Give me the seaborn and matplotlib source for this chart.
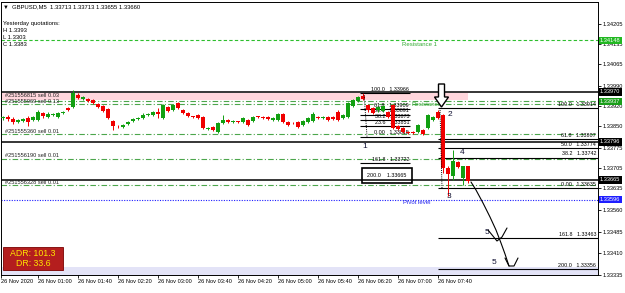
import matplotlib
matplotlib.use("Agg")
import numpy as np
import pandas as pd
import matplotlib.pyplot as plt
import matplotlib.transforms as mtransforms
from matplotlib.patches import Rectangle, Polygon
import seaborn as sns

# ---------------- data ----------------
first_bar_time = "2020-11-26 00:25"
opens = [1.33879, 1.33883, 1.33876, 1.33865, 1.33869, 1.33879, 1.33872, 1.33872, 1.33897, 1.33883,
         1.33890, 1.33883, 1.33897, 1.33914, 1.33917, 1.33959, 1.33945, 1.33945, 1.33942, 1.33928,
         1.33921, 1.33910, 1.33869, 1.33851, 1.33848, 1.33858, 1.33869, 1.33876, 1.33879, 1.33890,
         1.33890, 1.33900, 1.33879, 1.33917, 1.33907, 1.33931, 1.33907, 1.33897, 1.33883, 1.33890,
         1.33883, 1.33841, 1.33848, 1.33831, 1.33862, 1.33872, 1.33865, 1.33866, 1.33865, 1.33872,
         1.33869, 1.33883, 1.33883, 1.33883, 1.33872, 1.33872, 1.33893, 1.33865, 1.33862, 1.33865,
         1.33855, 1.33865, 1.33869, 1.33883, 1.33879, 1.33883, 1.33883, 1.33900, 1.33879, 1.33883,
         1.33921, 1.33938, 1.33956, 1.33924, 1.33914, 1.33907, 1.33903, 1.33900, 1.33924, 1.33851,
         1.33844, 1.33831, 1.33830, 1.33831, 1.33838, 1.33844, 1.33872, 1.33900, 1.33890, 1.33706,
         1.33678, 1.33727, 1.33671, 1.33713]
highs = [1.33886, 1.33890, 1.33883, 1.33876, 1.33879, 1.33886, 1.33886, 1.33907, 1.33900, 1.33900,
         1.33897, 1.33900, 1.33903, 1.33917, 1.33976, 1.33966, 1.33956, 1.33949, 1.33945, 1.33931,
         1.33924, 1.33914, 1.33872, 1.33855, 1.33858, 1.33869, 1.33879, 1.33883, 1.33897, 1.33897,
         1.33903, 1.33914, 1.33928, 1.33921, 1.33928, 1.33935, 1.33910, 1.33900, 1.33886, 1.33893,
         1.33886, 1.33848, 1.33851, 1.33865, 1.33890, 1.33876, 1.33872, 1.33869, 1.33883, 1.33876,
         1.33886, 1.33886, 1.33886, 1.33886, 1.33883, 1.33897, 1.33897, 1.33869, 1.33865, 1.33869,
         1.33872, 1.33883, 1.33900, 1.33886, 1.33886, 1.33886, 1.33886, 1.33907, 1.33893, 1.33935,
         1.33945, 1.33956, 1.33966, 1.33928, 1.33917, 1.33921, 1.33924, 1.33903, 1.33928, 1.33855,
         1.33848, 1.33834, 1.33834, 1.33858, 1.33841, 1.33893, 1.33886, 1.33907, 1.33893, 1.33713,
         1.33768, 1.33730, 1.33713, 1.33713]
lows = [1.33872, 1.33869, 1.33858, 1.33862, 1.33865, 1.33851, 1.33869, 1.33869, 1.33879, 1.33879,
        1.33886, 1.33879, 1.33893, 1.33903, 1.33914, 1.33945, 1.33942, 1.33935, 1.33928, 1.33914,
        1.33900, 1.33876, 1.33838, 1.33844, 1.33844, 1.33855, 1.33865, 1.33872, 1.33876, 1.33886,
        1.33886, 1.33879, 1.33876, 1.33900, 1.33903, 1.33910, 1.33893, 1.33883, 1.33879, 1.33876,
        1.33841, 1.33838, 1.33834, 1.33827, 1.33858, 1.33862, 1.33862, 1.33862, 1.33862, 1.33851,
        1.33865, 1.33879, 1.33876, 1.33872, 1.33869, 1.33869, 1.33862, 1.33851, 1.33858, 1.33844,
        1.33851, 1.33862, 1.33865, 1.33876, 1.33876, 1.33869, 1.33872, 1.33869, 1.33876, 1.33879,
        1.33917, 1.33935, 1.33942, 1.33900, 1.33893, 1.33900, 1.33900, 1.33879, 1.33841, 1.33838,
        1.33827, 1.33824, 1.33824, 1.33827, 1.33820, 1.33841, 1.33869, 1.33876, 1.33688, 1.33609,
        1.33664, 1.33706, 1.33647, 1.33655]
closes = [1.33880, 1.33876, 1.33865, 1.33872, 1.33876, 1.33865, 1.33883, 1.33900, 1.33886, 1.33893,
          1.33893, 1.33897, 1.33900, 1.33907, 1.33966, 1.33949, 1.33952, 1.33938, 1.33931, 1.33917,
          1.33903, 1.33879, 1.33851, 1.33850, 1.33855, 1.33865, 1.33876, 1.33879, 1.33890, 1.33891,
          1.33900, 1.33893, 1.33924, 1.33903, 1.33924, 1.33914, 1.33897, 1.33886, 1.33882, 1.33879,
          1.33844, 1.33844, 1.33838, 1.33862, 1.33872, 1.33865, 1.33869, 1.33865, 1.33879, 1.33855,
          1.33883, 1.33882, 1.33879, 1.33876, 1.33879, 1.33893, 1.33865, 1.33855, 1.33861, 1.33848,
          1.33869, 1.33879, 1.33893, 1.33879, 1.33883, 1.33872, 1.33876, 1.33872, 1.33890, 1.33931,
          1.33942, 1.33952, 1.33945, 1.33907, 1.33897, 1.33917, 1.33921, 1.33883, 1.33844, 1.33841,
          1.33831, 1.33827, 1.33827, 1.33855, 1.33824, 1.33890, 1.33883, 1.33879, 1.33706, 1.33685,
          1.33730, 1.33709, 1.33713, 1.33660]

time_tick_labels = ["26 Nov 01:00", "26 Nov 01:40", "26 Nov 02:20", "26 Nov 03:00", "26 Nov 03:40",
                    "26 Nov 04:20", "26 Nov 05:00", "26 Nov 05:40", "26 Nov 06:20", "26 Nov 07:00",
                    "26 Nov 07:40"]
price_ticks = [1.34205, 1.34135, 1.34065, 1.33990, 1.33920, 1.33850, 1.33775, 1.33705,
               1.33635, 1.33560, 1.33485, 1.33410, 1.33335]

resistance1 = 1.34148
supply_zone = [1.33942, 1.33966]
black_levels = [1.33970, 1.33796, 1.33665]
order_levels = [1.33937, 1.33928, 1.33822, 1.33737, 1.33647]
order_labels = ["#251556815 sell 0.03", "#251555969 sell 0.13", "#251555360 sell 0.01",
                "#251556190 sell 0.01", "#251556328 sell 0.01"]
pivot_level = 1.33596
price_boxes = [(1.34148, "#22B822"), (1.33970, "black"), (1.33937, "#1A9E1A"),
               (1.33796, "black"), (1.33665, "black"), (1.33596, "#1E1EFF")]

fib_right_names = ["100.0", "61.8", "50.0", "38.2", "0.00", "161.8", "200.0"]
fib_right_prices = [1.33914, 1.33807, 1.33774, 1.33742, 1.33635, 1.33463, 1.33356]
fib_left_names = ["100.0", "61.8", "50.0", "38.2", "23.6", "0.00", "161.8", "200.0"]
fib_left_prices = [1.33966, 1.33909, 1.33891, 1.33873, 1.33851, 1.33815, 1.33722, 1.33665]

title_text = "\u25BC  GBPUSD,M5  1.33713 1.33713 1.33655 1.33660"
yesterday_lines = ["Yesterday quotations:", "H 1.3393", "L 1.3303", "C 1.3383"]
adr_text = "ADR: 101.3"
dr_text = "DR: 33.6"

# ---------------- layout constants (pixels of the 625x293 picture) ----------------
W, H = 625, 293
X0_PX, DX_PX = 3.0, 5.0
Y_REF_PX, Y_REF, PX_PRICE = 24.0, 1.34205, 3.466e-5


def px2x(px):
    return (px - X0_PX) / DX_PX


def px2y(py):
    return Y_REF - (py - Y_REF_PX) * PX_PRICE


df = pd.DataFrame({"open": opens, "high": highs, "low": lows, "close": closes})
df["time"] = pd.date_range(first_bar_time, periods=len(df), freq="5min")
df["idx"] = np.arange(len(df))
df["label"] = df["time"].dt.strftime("%d %b %H:%M")

sns.set_theme(style="white")
plt.rcParams["font.family"] = ["Liberation Sans", "DejaVu Sans"]

fig = plt.figure(figsize=(W / 100, H / 100), dpi=100)
fig.patch.set_facecolor("white")
ax = fig.add_axes([1 / W, (H - 275) / H, (598 - 1) / W, (275 - 2) / H])
ax.set_facecolor("white")
ax.set_xlim(px2x(1), px2x(598))
ax.set_ylim(px2y(275), px2y(2))
pix = mtransforms.Affine2D().scale(1 / W, -1 / H).translate(0, 1) + fig.transFigure
blend = mtransforms.blended_transform_factory(ax.transAxes, ax.transData)

for sp in ax.spines.values():
    sp.set_color("black")
    sp.set_linewidth(0.7)

# bands
ax.axhspan(px2y(275), px2y(267.5), color="#E3E3F7", lw=0, zorder=0.5)
ax.fill_between([px2x(1), px2x(468)], supply_zone[0], supply_zone[1], color="#FFD6DC", lw=0, zorder=1)

# horizontal levels
ax.axhline(resistance1, color="#2DBE2D", lw=0.8, dashes=(3, 2), zorder=2)
for lv in order_levels:
    ax.axhline(lv, color="#4CA64C", lw=0.8, dashes=(5, 2, 1, 2), zorder=2)
ax.axhline(pivot_level, color="#1E1EFF", lw=0.8, dashes=(1, 1.3), zorder=2)
for lv in black_levels:
    ax.axhline(lv, color="black", lw=1.1, zorder=3)

# right fibonacci
ax.hlines(fib_right_prices, px2x(438), px2x(598), color="black", lw=0.8, zorder=3)
for nm, p in zip(fib_right_names, fib_right_prices):
    ax.annotate(f"{nm}   {p:.5f}", xy=(px2x(596), p), xytext=(0, 0.8), textcoords="offset points",
                ha="right", va="bottom", fontsize=3.9, color="black", zorder=8)
ax.plot([px2x(440), px2x(442)], [fib_right_prices[0], fib_right_prices[4]], color="black",
        lw=0.7, ls=(0, (1, 1.2)), zorder=7)

# left fibonacci
ax.hlines(fib_left_prices[:-1], px2x(360), px2x(410), color="black", lw=0.8, zorder=3)
for nm, p in zip(fib_left_names[:-1], fib_left_prices[:-1]):
    ax.annotate(f"{nm}   {p:.5f}", xy=(px2x(409), p), xytext=(0, 0.8), textcoords="offset points",
                ha="right", va="bottom", fontsize=3.9, color="black", zorder=4)
ax.plot([px2x(364), px2x(367)], [fib_left_prices[0], fib_left_prices[5]], color="black",
        lw=0.7, ls=(0, (1, 1.2)), zorder=7)
ax.add_patch(Rectangle((362, 168), 50, 15, transform=pix, fill=False, ec="black", lw=1.2,
                       zorder=8, clip_on=False))
ax.text(387, 175.5, f"{fib_left_names[-1]}    {fib_left_prices[-1]:.5f}", transform=pix,
        ha="center", va="center", fontsize=3.9, color="black", zorder=8)

# candles
bull = df["close"] >= df["open"]
cols = np.where(bull, "#12A012", "#F00000")
ax.vlines(df["idx"], df["low"], df["high"], colors=cols, lw=0.7, zorder=5)
bottoms = np.minimum(df["open"], df["close"])
heights = np.maximum((df["close"] - df["open"]).abs(), 2.5e-5)
ax.bar(df["idx"], heights, bottom=bottoms, width=0.62, color=cols, lw=0, zorder=6)

# axis ticks
ax.yaxis.tick_right()
ax.set_yticks(price_ticks)
ax.set_yticklabels([f"{p:.5f}" for p in price_ticks])
ax.tick_params(axis="y", which="both", direction="out", length=2, width=0.6, pad=1.0,
               labelsize=4.1, colors="black", right=True, left=False)
tick_idx = [int(df.index[df["label"] == t][0]) for t in time_tick_labels]
ax.set_xticks([px2x(1)] + tick_idx)
ax.set_xticklabels(["26 Nov 2020"] + time_tick_labels)
for lab in ax.get_xticklabels():
    lab.set_ha("left")
ax.tick_params(axis="x", direction="out", length=1.8, width=0.6, pad=0.8, labelsize=4.1,
               colors="black", bottom=True)

# price boxes on the scale
for p, fc in price_boxes:
    ax.text(1.0035, p, f"{p:.5f}", transform=blend, ha="left", va="center", fontsize=4.1,
            color="white", zorder=20, clip_on=False,
            bbox=dict(boxstyle="square,pad=0.22", fc=fc, ec="none"))

# texts top-left
ax.text(3, 7, title_text, transform=pix, ha="left", va="center", fontsize=4.2, color="black")
for k, s in enumerate(yesterday_lines):
    ax.text(3, 23 + 7.2 * k, s, transform=pix, ha="left", va="center", fontsize=4.2, color="black")

# order labels
for s, ypx in zip(order_labels, [95.5, 101.5, 131.5, 155.5, 182]):
    ax.text(5, ypx, s, transform=pix, ha="left", va="center", fontsize=4.1, color="#222222", zorder=9)

ax.text(402, 45, "Resistance 1", transform=pix, ha="left", va="center", fontsize=4.3, color="#33AA33")
ax.text(411, 104, "Resistance", transform=pix, ha="left", va="center", fontsize=4.3, color="#33AA33")
ax.text(403, 203, "Pivot level", transform=pix, ha="left", va="center", fontsize=4.3, color="#2222EE")

# wave numbers
for s, (xp, yp) in zip(["1", "2", "3", "4", "5", "5"],
                       [(365, 147), (450, 114), (449, 196), (462, 153), (487, 232), (494, 262)]):
    ax.text(xp, yp, s, transform=pix, ha="center", va="center", fontsize=6, color="#111133", zorder=12)

# hollow arrow
arrow = Polygon([(438.5, 84), (444.5, 84), (444.5, 97), (448.5, 97), (441.5, 107), (434.5, 97),
                 (438.5, 97)], closed=True, transform=pix, fc="white", ec="black", lw=1.0,
                zorder=12, clip_on=False)
ax.add_patch(arrow)

# hand-drawn path
curve = [(471, 182), (476, 190), (483, 203), (490, 217), (496, 230), (501, 243), (505, 254), (509, 266)]
ax.plot(*zip(*curve), transform=pix, color="black", lw=0.8, zorder=12, clip_on=False)
ax.plot(*zip(*[(488, 230), (497, 241), (502, 237), (507, 228)]), transform=pix, color="black",
        lw=0.8, zorder=12, clip_on=False)
ax.plot(*zip(*[(505, 258), (509, 266), (514, 266), (518, 258)]), transform=pix, color="black",
        lw=0.8, zorder=12, clip_on=False)

# ADR box
ax.add_patch(Rectangle((3, 247), 60, 23, transform=pix, fc="#B41E1E", ec="#7A0000", lw=0.6,
                       zorder=30, clip_on=False))
ax.text(33, 253.5, adr_text, transform=pix, ha="center", va="center", fontsize=6.3,
        color="#FFE600", zorder=31)
ax.text(33, 264, dr_text, transform=pix, ha="center", va="center", fontsize=6.3,
        color="#FFE600", zorder=31)

fig.savefig("out.png", dpi=100, facecolor="white")
